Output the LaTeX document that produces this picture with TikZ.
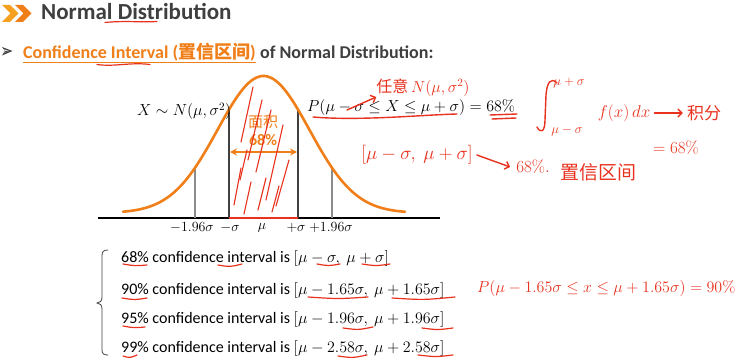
\RequirePackage{fix-cm}
\documentclass[tikz,border=0pt]{standalone}
\usepackage[no-math]{fontspec}
\setmainfont{Carlito}
\newfontfamily\cjk{Noto Sans CJK SC}
\usetikzlibrary{arrows.meta}
\definecolor{ttl}{HTML}{3F3F3F}
\definecolor{org}{HTML}{F07F1A}
\definecolor{hand}{HTML}{E8321E}
\definecolor{chev}{HTML}{F5A01E}
\definecolor{dk}{HTML}{404040}
\definecolor{lg}{HTML}{8C8C8C}
\def\fy#1{217-4-137*exp(-(((#1)-263.5)/46)^2/2)}
\begin{document}
\begin{tikzpicture}[x=1pt,y=-1pt,
  fs/.style={font=\fontsize{#1}{#1}\selectfont},
  fsb/.style={font=\fontsize{#1}{#1}\selectfont\bfseries},
  handtxt/.style={text=hand, inner sep=0pt},
  handln/.style={draw=hand, line width=1.4pt, line cap=round},
  rline/.style={draw=hand, line width=1.2pt, line cap=round},
  listtxt/.style={anchor=base west, inner sep=0pt, fs=16, text=black},
  axlab/.style={anchor=base, inner sep=0pt, fs=14},
  sigline/.style={draw=dk, line width=2.4pt},
  zline/.style={draw=lg, line width=1.8pt}]
\useasboundingbox (0,0) rectangle (740,361);
\fill[white] (0,0) rectangle (740,361);

% title
\fill[chev] (2,5) -- (10,5) -- (18.5,13.5) -- (10,22) -- (2,22) -- (10.5,13.5) -- cycle;
\fill[org] (15,5) -- (23,5) -- (31.5,13.5) -- (23,22) -- (15,22) -- (23.5,13.5) -- cycle;
\node[anchor=base west, inner sep=0pt, fsb=23, text=ttl] (title) at (41,20) {Normal Distribution};
\draw[rline] (105,22.5) .. controls (125,20.5) and (140,22.5) .. (157,21.5);

% subtitle
\fill[dk] (2,47) -- (12.5,51) -- (2,55.5) -- (5,51) -- cycle;
\fill[white] (3.8,49.2) -- (9,51) -- (3.8,53.1) -- (5.6,51) -- cycle;
\fill[dk] (5.6,51) -- (9,51) -- (3.8,53.1) -- cycle;
\node[anchor=base west, inner sep=0pt, fsb=18, text=org] (ci) at (23,59) {Confidence Interval ({\cjk 置信区间})};
\draw[draw=org, line width=1pt] ([yshift=-3.5pt]ci.base west) -- ([yshift=-3.5pt]ci.base east);
\node[anchor=base west, inner sep=0pt, fsb=18, text=ttl] (of) at ([xshift=4pt]ci.base east) {of Normal Distribution:};
\draw[rline] (97,64.5) .. controls (115,67) and (130,62) .. (150,64.5);

% axis and curve
\coordinate (axL) at (98,217.5);
\coordinate (axR) at (440,217.5);
\draw[line width=2pt, black] (axL) -- (axR);
\coordinate (m1) at (229,217.5);
\coordinate (p1) at (298,217.5);
\coordinate (m2) at (195,217.5);
\coordinate (p2) at (332,217.5);
\draw[sigline] (m1) -- (229,{\fy{229}});
\draw[sigline] (p1) -- (298,{\fy{298}});
\draw[zline] (m2) -- (195,{\fy{195}});
\draw[zline] (p2) -- (332,{\fy{332}});
\draw[org, line width=2.6pt, line cap=round] plot[domain=123:405, samples=120] (\x, {\fy{\x}});
\draw[hand, line width=2pt] (m1) -- (p1);

% axis labels
\node[axlab] (l1) at (192,231) {$-1.96\sigma$};
\node[axlab] (l2) at (230,231) {$-\sigma$};
\node[axlab] (l3) at (262,229) {$\mu$};
\node[axlab] (l4) at (296,231) {$+\sigma$};
\node[axlab] (l5) at (331,231) {$+1.96\sigma$};

% area labels
\node[text=org, inner sep=0pt, fs=15] (area) at (263,122) {\cjk 面积};
\node[text=org, inner sep=0pt, fsb=16] (pct) at (263,140) {68\%};
\coordinate (aL) at (230,152);
\coordinate (aR) at (297,152);
\draw[org, line width=2pt, {Stealth[length=7pt,width=7pt]}-{Stealth[length=7pt,width=7pt]}] (aL) -- (aR);

% hatching
\foreach \a/\b/\c/\d in {253/87/241/142, 262/100/248/160, 271/110/256/172, 283/125/266/200,
  241/168/234/205, 251/182/244/214, 266/178/258/210, 289/160/276/206, 279/186/272/212, 247/150/240/180}
  \draw[hand, line width=1.1pt, line cap=round] (\a,\b) -- (\c,\d);

% formulas
\node[anchor=base west, inner sep=0pt, fs=16] (xn) at (137,116) {$X\sim N(\mu,\sigma^2)$};
\node[anchor=base west, inner sep=0pt, fs=16] (pe) at (307,112) {$P(\mu-\sigma\leq X\leq\mu+\sigma)=68\%$};

% handwritten notes near equation
\node[handtxt, fs=16] (ry) at (423,88) {{\cjk 任意}\,$N(\mu,\sigma^2)$};
\coordinate (ra) at (347,110);
\draw[handln, -{Straight Barb[length=4pt]}] (ra) -- (ry.south west);
\draw[handln] (313,117) .. controls (360,121) and (420,115) .. (457,114);
\draw[handln] (490,115) -- (517,114);
\draw[handln] (492,119) -- (516,118);

% integral
\draw[handln] (557,83) .. controls (551,77) and (547,82) .. (546,95) -- (545,120) .. controls (545,133) and (540,133) .. (537,127);
\node[handtxt, fs=13] (up) at (569,83) {$\mu+\sigma$};
\node[handtxt, fs=13] (lo) at (567,131) {$\mu-\sigma$};
\node[handtxt, fs=17] (fx) at (624,113) {$f(x)\,dx$};
\node[handtxt, fs=17] (jf) at (704,113) {\cjk 积分};
\draw[handln, -{Straight Barb[length=4pt]}] ([xshift=4pt]fx.east) -- ([xshift=-4pt]jf.west);
\node[handtxt, fs=17] (e68) at (676,148) {$=68\%$};

\node[handtxt, fs=19] (iv) at (417,155) {$[\mu-\sigma,\ \mu+\sigma]$};
\node[handtxt, fs=17] (c68) at (533,167) {$68\%.$};
\node[handtxt, fs=19] (zx) at (598,172) {\cjk 置信区间};
\draw[handln, -{Straight Barb[length=4pt]}] ([xshift=4pt]iv.east) -- ([xshift=-6pt]c68.west);

% list
\draw[draw=dk, line width=0.8pt] (108,250) .. controls (103,250) and (102,252) .. (102,256) -- (102,297)
  .. controls (102,301) and (100,303) .. (97,303) .. controls (100,303) and (102,305) .. (102,309)
  -- (102,350) .. controls (102,354) and (104,355) .. (108,355);
\node[listtxt] (r1) at (121,262) {68\% confidence interval is $[\mu-\sigma,\ \mu+\sigma]$};
\node[listtxt] (r2) at (121,294) {90\% confidence interval is $[\mu-1.65\sigma,\ \mu+1.65\sigma]$};
\node[listtxt] (r3) at (121,323) {95\% confidence interval is $[\mu-1.96\sigma,\ \mu+1.96\sigma]$};
\node[listtxt] (r4) at (121,352) {99\% confidence interval is $[\mu-2.58\sigma,\ \mu+2.58\sigma]$};

\foreach \a/\b/\c/\d in {123/264/147/265, 218/265/242/264, 317/264/340/264, 362/264/390/264,
  122/298/147/298, 308/297/368/297, 392/298/455/297,
  123/326/145/327, 343/328/373/327, 422/328/453/328,
  123/356/137/355, 338/356/367/355, 418/355/453/355}
  \draw[rline] (\a,\b) .. controls ({(\a+\c)/2},{\b+2}) .. (\c,\d);

\node[handtxt, fs=16, anchor=west] (p90) at (477,288) {$P(\mu-1.65\sigma\leq x\leq\mu+1.65\sigma)=90\%$};
\end{tikzpicture}
\end{document}
